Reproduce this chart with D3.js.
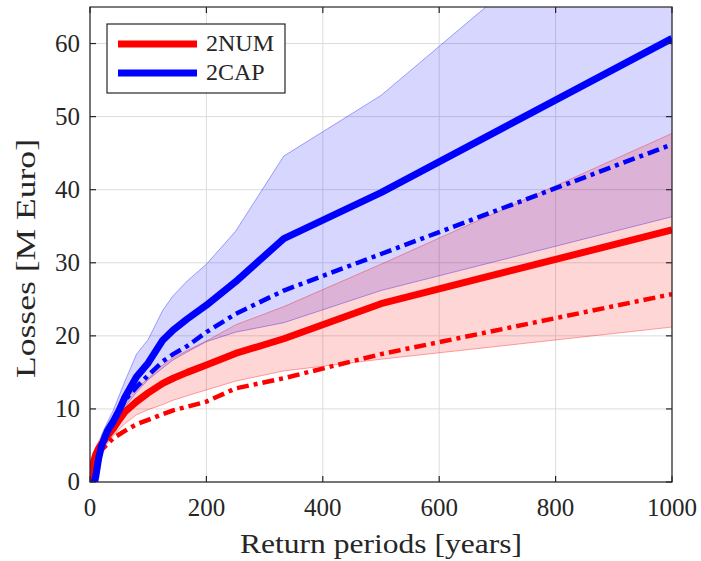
<!DOCTYPE html>
<html>
<head>
<meta charset="utf-8">
<script src="https://cdn.jsdelivr.net/npm/d3@7"></script>
<style>
  body { margin: 0; background: #fff; }
</style>
</head>
<body>
<div id="chart"></div>
<script>
const returnPeriods = [1, 3, 5, 8, 10, 15, 20, 30, 40, 50, 60, 80, 100, 125, 143, 167, 200, 250, 333, 500, 1000];

// 2CAP
const capMean  = [0, 0, 0, 0, 0.8, 3.3, 5, 7, 8.3, 9.8, 11.6, 14.4, 16.3, 19.4, 20.8, 22.3, 24.2, 27.4, 33.3, 39.6, 60.7];
const capAlt   = [0, 0, 0, 0, 0.8, 3.3, 5, 7, 8.3, 9.8, 11.2, 13, 14.6, 16.5, 17.5, 18.6, 20.5, 23, 26.2, 31.2, 46.2];
const capUpper = [0, 0, 0, 0.3, 1.8, 4.5, 6.5, 8.2, 9.8, 11.8, 13.8, 17.5, 19.5, 23.5, 25.5, 27.5, 29.8, 34.3, 44.6, 52.9, 86.5];
const capLower = [0, 0, 0, 0, 0.5, 2.5, 4.3, 6.2, 7.6, 9, 10.3, 12.3, 14, 15.6, 16.7, 17.8, 19.2, 20.5, 21.8, 26.2, 36.3];

// 2NUM
const numMean  = [0.5, 1.5, 2.5, 3.3, 3.8, 4.6, 5.2, 6.3, 7.3, 8.5, 9.6, 11, 12.2, 13.5, 14.2, 15, 16, 17.6, 19.6, 24.4, 34.5];
const numAlt   = [0.5, 1.5, 2.5, 3.2, 3.4, 3.9, 4.4, 5.2, 6, 6.5, 7, 7.9, 8.5, 9.3, 9.8, 10.3, 11, 12.8, 14.2, 17.5, 25.7];
const numUpper = [0.8, 2.5, 3.5, 4.3, 4.8, 5.6, 6.3, 7.5, 8.6, 10, 11.2, 12.8, 14.2, 16, 17, 18, 19.3, 21.5, 24, 29.8, 47.7];
const numLower = [0.2, 1, 1.8, 2.6, 3, 3.8, 4.4, 5.3, 6.3, 7.2, 8, 9.2, 9.9, 10.6, 11.2, 11.8, 12.6, 13.8, 15.2, 16.8, 21.2];

const xTicks = [0, 200, 400, 600, 800, 1000];
const yTicks = [0, 10, 20, 30, 40, 50, 60];
const legendLabels = ['2NUM', '2CAP'];

const W = 701, H = 561;
const mLeft = 90, mRight = 672, mTop = 7, mBottom = 482;
const serif = "'Liberation Serif', Tinos, 'Times New Roman', Times, serif";

const svg = d3.select('#chart').append('svg')
  .attr('width', W).attr('height', H)
  .style('font-family', serif);

const x = d3.scaleLinear().domain([0, 1000]).range([mLeft, mRight]);
const y = d3.scaleLinear().domain([0, 65]).range([mBottom, mTop]);

svg.append('defs').append('clipPath').attr('id', 'clip')
  .append('rect').attr('x', mLeft).attr('y', mTop)
  .attr('width', mRight - mLeft).attr('height', mBottom - mTop);

// grid
const grid = svg.append('g');
grid.selectAll('.gx').data(xTicks).join('line')
  .attr('x1', d => x(d)).attr('x2', d => x(d))
  .attr('y1', mTop).attr('y2', mBottom)
  .attr('stroke', '#dcdcdc').attr('stroke-width', 1);
grid.selectAll('.gy').data(yTicks).join('line')
  .attr('x1', mLeft).attr('x2', mRight)
  .attr('y1', d => y(d)).attr('y2', d => y(d))
  .attr('stroke', '#dcdcdc').attr('stroke-width', 1);

const plot = svg.append('g').attr('clip-path', 'url(#clip)');

function rows(lo, hi) {
  return returnPeriods.map((rp, i) => ({ rp, lo: lo[i], hi: hi[i] }));
}
const band = d3.area().x(d => x(d.rp)).y0(d => y(d.lo)).y1(d => y(d.hi));
const edge = d3.line().x(d => x(d[0])).y(d => y(d[1]));
const pts = arr => returnPeriods.map((rp, i) => [rp, arr[i]]);

function drawBand(lo, hi, col) {
  plot.append('path').datum(rows(lo, hi)).attr('d', band)
    .attr('fill', col).attr('fill-opacity', 0.16).attr('stroke', 'none');
  [lo, hi].forEach(a => {
    plot.append('path').datum(pts(a)).attr('d', edge)
      .attr('fill', 'none').attr('stroke', col)
      .attr('stroke-opacity', 0.35).attr('stroke-width', 1);
  });
}
drawBand(capLower, capUpper, '#0000ff');
drawBand(numLower, numUpper, '#ff0000');

function drawLine(arr, col, dashed) {
  plot.append('path').datum(pts(arr)).attr('d', edge)
    .attr('fill', 'none').attr('stroke', col)
    .attr('stroke-width', dashed ? 4.5 : 7)
    .attr('stroke-linejoin', 'round')
    .attr('stroke-dasharray', dashed ? '12,5,4,5' : null);
}
drawLine(numAlt, '#ff0000', true);
drawLine(numMean, '#ff0000', false);
drawLine(capAlt, '#0000ff', true);
drawLine(capMean, '#0000ff', false);

// axes box and ticks
const axisCol = '#262626';
svg.append('rect').attr('x', mLeft).attr('y', mTop)
  .attr('width', mRight - mLeft).attr('height', mBottom - mTop)
  .attr('fill', 'none').attr('stroke', axisCol).attr('stroke-width', 1.2);

const tk = 6;
const ticks = svg.append('g').attr('stroke', axisCol).attr('stroke-width', 1.2);
xTicks.forEach(v => {
  ticks.append('line').attr('x1', x(v)).attr('x2', x(v)).attr('y1', mBottom).attr('y2', mBottom - tk);
  ticks.append('line').attr('x1', x(v)).attr('x2', x(v)).attr('y1', mTop).attr('y2', mTop + tk);
});
yTicks.forEach(v => {
  ticks.append('line').attr('x1', mLeft).attr('x2', mLeft + tk).attr('y1', y(v)).attr('y2', y(v));
  ticks.append('line').attr('x1', mRight).attr('x2', mRight - tk).attr('y1', y(v)).attr('y2', y(v));
});

svg.append('g').selectAll('text').data(xTicks).join('text')
  .attr('x', d => x(d)).attr('y', mBottom + 34)
  .attr('text-anchor', 'middle').attr('font-size', 25)
  .attr('font-family', serif).attr('fill', axisCol)
  .text(d => d);
svg.append('g').selectAll('text').data(yTicks).join('text')
  .attr('x', mLeft - 10).attr('y', d => y(d) + 8)
  .attr('text-anchor', 'end').attr('font-size', 25)
  .attr('font-family', serif).attr('fill', axisCol)
  .text(d => d);

svg.append('text')
  .attr('x', (mLeft + mRight) / 2).attr('y', 553)
  .attr('text-anchor', 'middle').attr('font-size', 28)
  .attr('font-family', serif).attr('fill', axisCol)
  .attr('textLength', 282).attr('lengthAdjust', 'spacingAndGlyphs')
  .text('Return periods [years]');
svg.append('text')
  .attr('transform', `translate(35,${(139 + 378) / 2}) rotate(-90)`)
  .attr('text-anchor', 'middle').attr('font-size', 28)
  .attr('font-family', serif).attr('fill', axisCol)
  .attr('textLength', 239).attr('lengthAdjust', 'spacingAndGlyphs')
  .text('Losses [M Euro]');

// legend
const lg = svg.append('g');
lg.append('rect').attr('x', 107).attr('y', 24).attr('width', 178).attr('height', 69)
  .attr('fill', '#fff').attr('stroke', axisCol).attr('stroke-width', 1.2);
const legCols = ['#ff0000', '#0000ff'];
legendLabels.forEach((lab, i) => {
  const ly = 44 + i * 29;
  lg.append('line').attr('x1', 118).attr('x2', 197).attr('y1', ly).attr('y2', ly)
    .attr('stroke', legCols[i]).attr('stroke-width', 7);
  lg.append('text').attr('x', 206).attr('y', ly + 7).attr('font-size', 24)
    .attr('font-family', serif).attr('fill', axisCol).text(lab);
});
</script>
</body>
</html>
